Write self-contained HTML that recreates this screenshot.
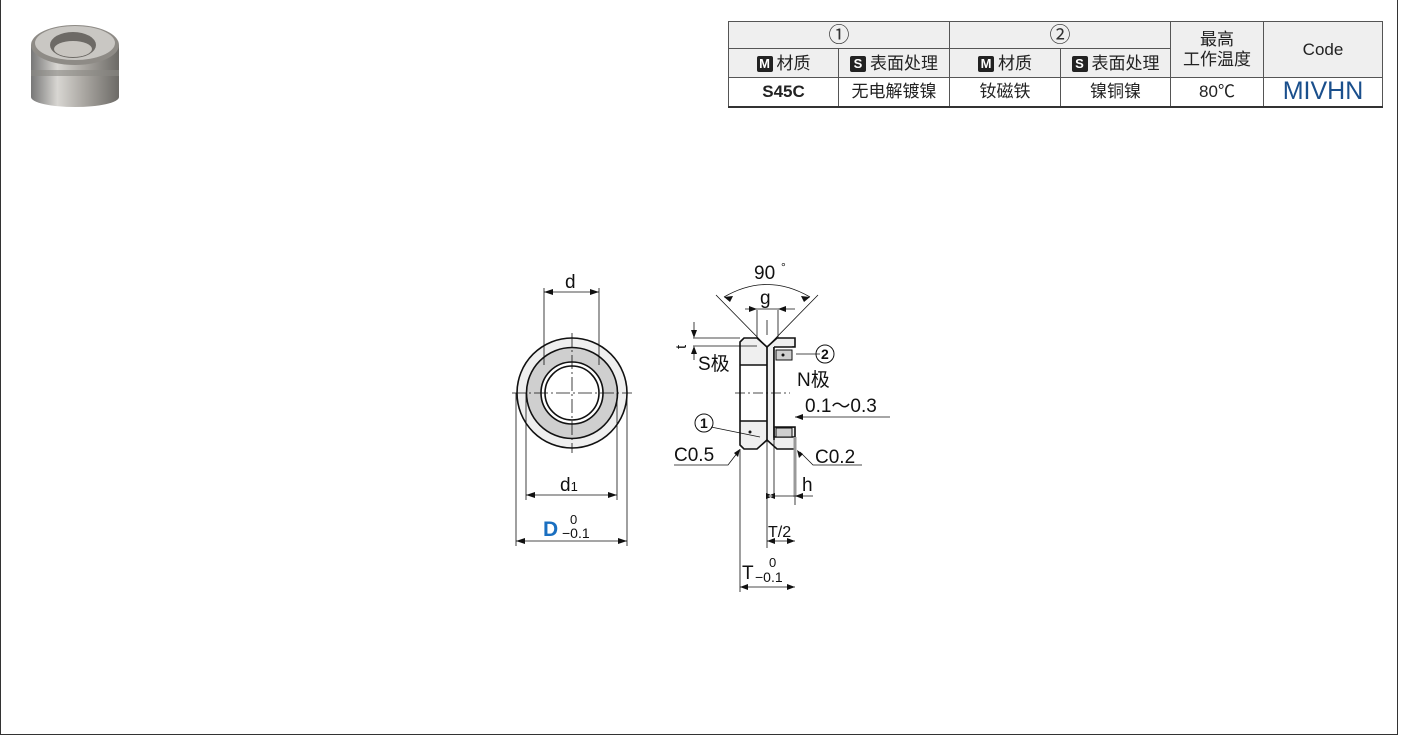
<!DOCTYPE html>
<html><head><meta charset="utf-8"><style>
body{margin:0;background:#fff;}
#wrap{position:relative;width:1401px;height:737px;overflow:hidden;font-family:"Liberation Sans","Noto Sans CJK SC",sans-serif;}
#frame{position:absolute;left:0;top:-2px;width:1398px;height:737px;border:1px solid #333;box-sizing:border-box;}
table{position:absolute;left:728px;top:21px;border-collapse:collapse;font-size:17px;color:#222;}
td{border:1px solid #555;text-align:center;padding:0;line-height:1;}
tr.h td{background:#efefef;}
.c{font-size:21px;color:#333;}
.b{display:inline-block;background:#222;color:#fff;font-size:13px;font-weight:bold;width:16px;height:16px;line-height:16px;border-radius:2px;margin-right:4px;vertical-align:1px;}
</style></head><body><div id="wrap">
<div id="frame"></div>
<svg width="1401" height="737" style="position:absolute;left:0;top:0">
<defs>
<linearGradient id="mg" x1="0" x2="1"><stop offset="0" stop-color="#777"/><stop offset=".3" stop-color="#d8d6d2"/><stop offset=".6" stop-color="#aaa7a2"/><stop offset="1" stop-color="#6c6a66"/></linearGradient>
</defs>
<rect x="31" y="45" width="88" height="52" fill="url(#mg)"/>
<ellipse cx="75" cy="97" rx="44" ry="10" fill="url(#mg)"/>
<rect x="31" y="70" width="88" height="6" fill="#8a8884" opacity=".6"/>
<ellipse cx="75" cy="45" rx="44" ry="20" fill="#8e8b86"/>
<ellipse cx="75" cy="43" rx="40" ry="17" fill="#c9c7c3"/>
<ellipse cx="73" cy="45" rx="23" ry="13" fill="#6d6a66"/>
<ellipse cx="73" cy="49" rx="19" ry="8" fill="#c8c5c0"/>
<g stroke="#111" fill="none" stroke-width="1">
<circle cx="572" cy="393" r="55" fill="#efefef" stroke-width="1.6"/>
<circle cx="572" cy="393" r="45.5" fill="#cfcfcf" stroke-width="1.6"/>
<circle cx="572" cy="393" r="31" fill="#fff" stroke-width="1.6"/>
<circle cx="572" cy="393" r="27" stroke-width="1.6"/>
<path d="M512 393H632M572 333V453" stroke-dasharray="14 3 2 3" stroke-width=".8"/>
<path d="M544 288V365M599 288V365M526 393V500M617 393V500M516 393V546M627 393V546" stroke-width=".8"/>
<path d="M544 292H599M526 495H617M516 541H627" stroke-width=".8"/>
</g>
<g fill="#111">
<path d="M544 292l9-3v6zM599 292l-9-3v6zM526 495l9-3v6zM617 495l-9-3v6zM516 541l9-3v6zM627 541l-9-3v6z"/>
</g>
<g font-size="19" fill="#111">
<text x="565" y="288">d</text>
<text x="560" y="491">d<tspan font-size="13">1</tspan></text>
<text x="543" y="536" fill="#1a6fc0" font-weight="bold" font-size="21">D</text>
<text x="570" y="524" font-size="13">0</text>
<text x="562" y="538" font-size="14">−0.1</text>
</g>
<g stroke="#111" stroke-width="1.6">
<path d="M744 338H757L767 347L777 338H795V347H793V427H795V449H777L767 440L757 449H744L740 445V342Z" fill="#efefef"/>
<rect x="741" y="365" width="26" height="56" fill="#fff" stroke="none"/>
<path d="M740 365H767M740 421H767M767 347V440M774 347V440" fill="none"/>
<rect x="774" y="347" width="21" height="80" fill="#fff" stroke="none"/>
<path d="M774 347H795M774 347V427H795M774 427V437H795" fill="none"/>
<rect x="776" y="350" width="16" height="10" fill="#cfcfcf" stroke-width="1"/>
<rect x="776" y="428" width="16" height="9" fill="#cfcfcf" stroke-width="1"/>
<path d="M767 347V440" fill="none" stroke-width="1.2"/>
</g>
<g stroke="#111" stroke-width=".8" fill="none">
<path d="M735 393H790" stroke-dasharray="10 3 2 3"/>
<path d="M767 320V335" />
<path d="M716 295L767 347L818 295"/>
<path d="M724 297Q767 272 810 297"/>
<path d="M757 310V338M778 310V338M745 309H795"/>
<path d="M693 338H740M693 346H757M694 322V336M694 348V360"/>
<path d="M740 449V592M795 449V505M767 440V548M774 437V497"/>
<path d="M795 437V497" stroke-width="3" stroke="#999"/>
<path d="M767 496H813M767 541H795M740 587H795"/>
<path d="M820 354H796"/>
<path d="M711 427L760 437"/>
<path d="M674 465H728L738 452"/>
<path d="M862 465H813L800 452"/>
<path d="M795 417H890"/>
</g>
<g fill="#111">
<path d="M724 297l9-1-3 6zM810 297l-9-1 3 6zM757 309l-8-3v6zM778 309l8-3v6zM694 338l-3-8h6zM694 346l-3 8h6zM795 417l8-3v6z"/>
<path d="M767 496l8-3v6zM774 496l-8-3v6zM795 496l8-3v6zM767 541l8-3v6zM795 541l-8-3v6zM740 587l8-3v6zM795 587l-8-3v6z"/>
<path d="M740 449l-2 8-4-4zM797 450l2 8 4-4z"/>
<circle cx="783" cy="355" r="1.5"/><circle cx="750" cy="432" r="1.5"/>
</g>
<g font-size="19" fill="#111">
<text x="754" y="279">90</text><text x="781" y="271" font-size="12">°</text>
<text x="760" y="304">g</text>
<text x="676" y="349" font-size="15" transform="rotate(-90 681 344)">t</text>
<text x="698" y="370">S极</text>
<text x="797" y="386">N极</text>
<text x="805" y="412">0.1～0.3</text>
<text x="674" y="461">C0.5</text>
<text x="815" y="463">C0.2</text>
<text x="802" y="491">h</text>
<text x="768" y="537" font-size="16">T/2</text>
<text x="742" y="579">T</text>
<text x="769" y="567" font-size="13">0</text>
<text x="755" y="582" font-size="14">−0.1</text>
</g>
<g stroke="#111" fill="none" stroke-width="1"><circle cx="825" cy="354" r="9"/><circle cx="704" cy="423" r="9"/></g>
<g font-size="14" fill="#111" font-weight="bold"><text x="821" y="359">2</text><text x="700" y="428">1</text></g>
</svg>
<table>
<tr class="h" style="height:27px"><td colspan="2" style="width:220px" class="c">①</td><td colspan="2" style="width:220px" class="c">②</td><td rowspan="2" style="width:92px;line-height:20px">最高<br>工作温度</td><td rowspan="2" style="width:118px">Code</td></tr>
<tr class="h" style="height:29px"><td style="width:109px"><span class="b">M</span>材质</td><td style="width:110px"><span class="b">S</span>表面处理</td><td style="width:110px"><span class="b">M</span>材质</td><td style="width:109px"><span class="b">S</span>表面处理</td></tr>
<tr style="height:29px;border-bottom:2px solid #333"><td style="font-weight:bold">S45C</td><td>无电解镀镍</td><td>钕磁铁</td><td>镍铜镍</td><td>80℃</td><td style="color:#1a4f8c;font-size:25px">MIVHN</td></tr>
</table>
</div></body></html>
